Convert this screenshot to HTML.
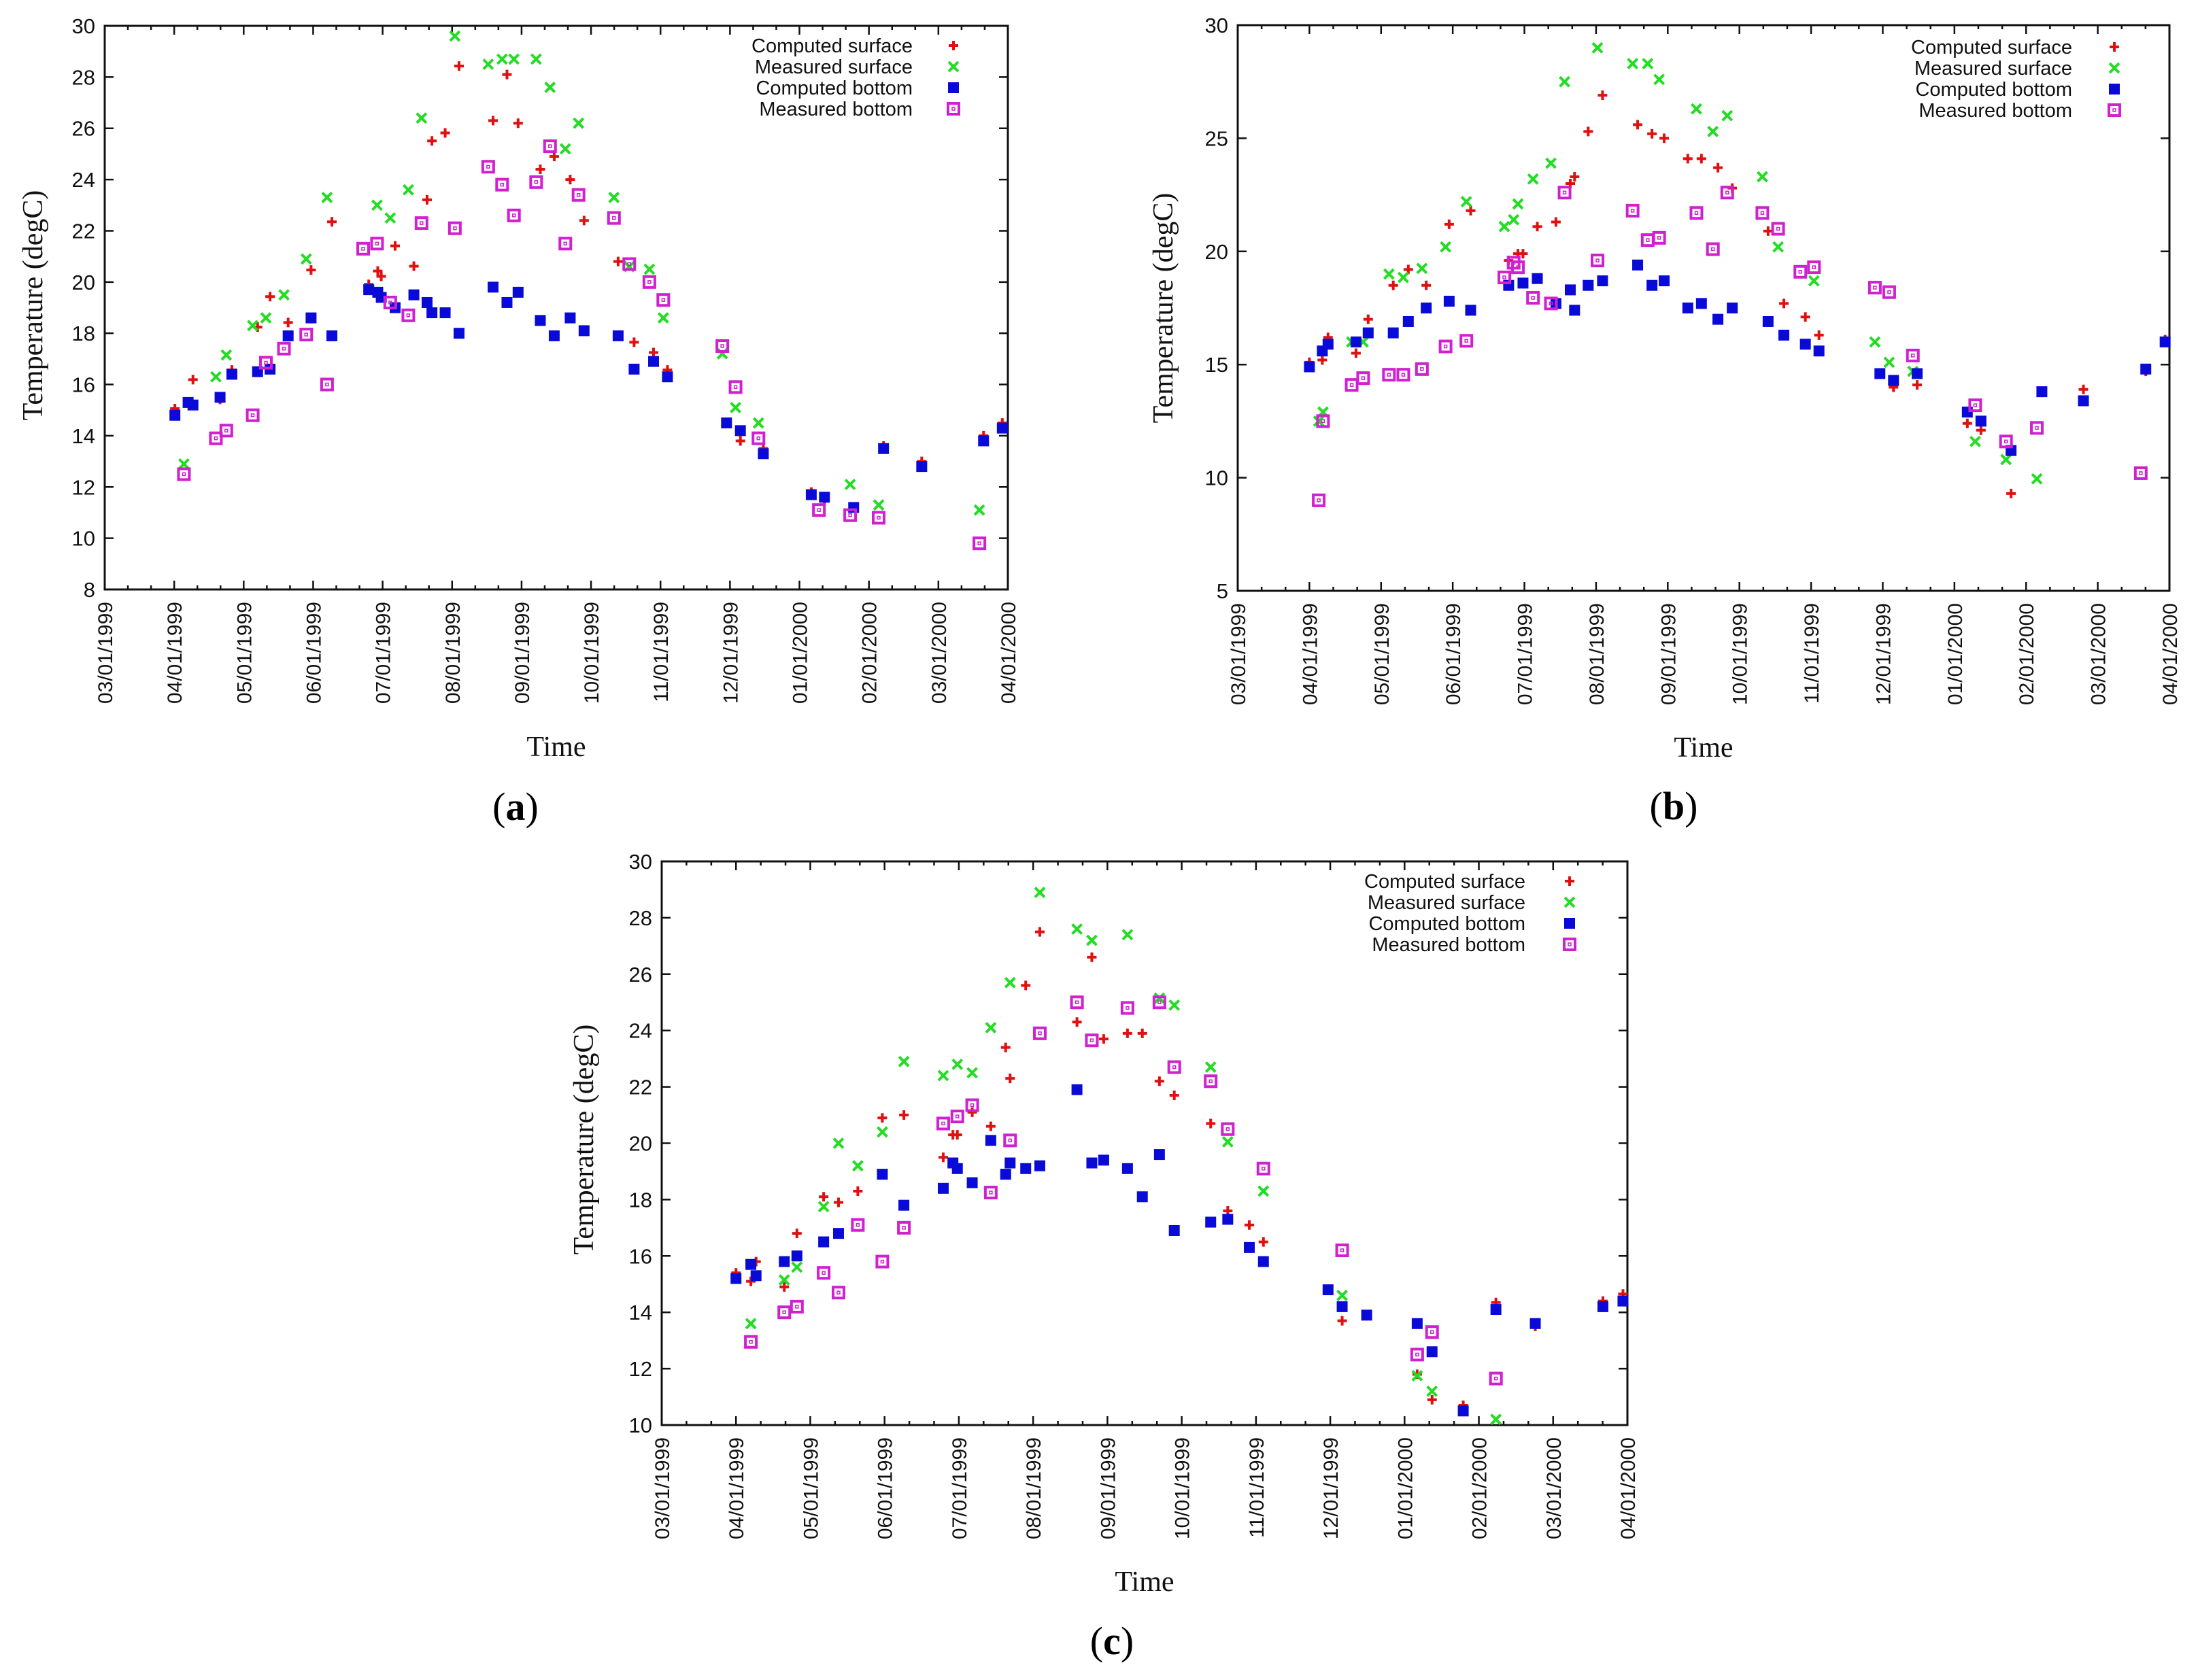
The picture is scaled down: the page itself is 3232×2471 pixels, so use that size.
<!DOCTYPE html>
<html><head><meta charset="utf-8"><style>
html,body{margin:0;padding:0;background:#fff;}
svg{display:block;}
</style></head><body>
<svg id="fig" xmlns="http://www.w3.org/2000/svg" width="3232" height="2471" viewBox="0 0 3232 2471"></svg>
<script>
// x values are months since 03/01/1999
const monthLabels = ["03/01/1999","04/01/1999","05/01/1999","06/01/1999","07/01/1999","08/01/1999","09/01/1999","10/01/1999","11/01/1999","12/01/1999","01/01/2000","02/01/2000","03/01/2000","04/01/2000"];
const seriesNames = ["Computed surface","Measured surface","Computed bottom","Measured bottom"];
const yTicksA = [8,10,12,14,16,18,20,22,24,26,28,30];
const yTicksB = [5,10,15,20,25,30];
const yTicksC = [10,12,14,16,18,20,22,24,26,28,30];

// Panel (a)
const aCSx=[1.01,1.27,1.66,1.83,2.2,2.38,2.64,2.97,3.27,3.8,3.93,3.98,4.18,4.45,4.64,4.71,4.9,5.1,5.59,5.79,5.95,6.27,6.47,6.7,6.9,7.39,7.62,7.9,8.1,8.95,9.15,9.48,10.17,10.36,11.21,11.76,12.65,12.92];
const aCSy=[15.06,16.19,15.42,16.57,18.24,19.43,18.42,20.47,22.35,19.91,20.43,20.22,21.41,20.62,23.21,25.51,25.82,28.43,26.3,28.1,26.2,24.4,24.9,24.0,22.4,20.8,17.65,17.25,16.57,14.5,13.8,13.5,11.8,11.47,13.6,13.0,14.0,14.5];
const aMSx=[1.14,1.6,1.75,2.13,2.32,2.58,2.9,3.2,3.92,4.11,4.37,4.56,5.04,5.52,5.72,5.89,6.21,6.41,6.63,6.82,7.33,7.55,7.84,8.04,8.89,9.08,9.41,10.73,11.14,12.59];
const aMSy=[12.9,16.3,17.15,18.3,18.6,19.5,20.9,23.3,23.0,22.5,23.6,26.4,29.6,28.5,28.7,28.7,28.7,27.6,25.2,26.2,23.3,20.6,20.5,18.6,17.2,15.1,14.5,12.1,11.3,11.1];
const aCBx=[1.01,1.2,1.27,1.66,1.83,2.2,2.38,2.64,2.97,3.27,3.8,3.93,3.98,4.18,4.45,4.64,4.71,4.9,5.1,5.59,5.79,5.95,6.27,6.47,6.7,6.9,7.39,7.62,7.9,8.1,8.95,9.15,9.48,10.17,10.36,10.78,11.21,11.76,12.65,12.92];
const aCBy=[14.8,15.3,15.2,15.5,16.4,16.5,16.6,17.9,18.6,17.9,19.7,19.6,19.4,19.0,19.5,19.2,18.8,18.8,18.0,19.8,19.2,19.6,18.5,17.9,18.6,18.1,17.9,16.6,16.9,16.3,14.5,14.2,13.3,11.7,11.6,11.2,13.5,12.8,13.8,14.3];
const aMBx=[1.14,1.6,1.75,2.13,2.32,2.58,2.9,3.2,3.72,3.92,4.11,4.37,4.56,5.04,5.52,5.72,5.89,6.21,6.41,6.63,6.82,7.33,7.55,7.84,8.04,8.89,9.08,9.41,10.28,10.73,11.14,12.59];
const aMBy=[12.5,13.9,14.2,14.8,16.85,17.4,17.95,16.0,21.3,21.5,19.2,18.7,22.3,22.1,24.5,23.8,22.6,23.9,25.3,21.5,23.4,22.5,20.7,20.0,19.3,17.5,15.9,13.9,11.1,10.9,10.8,9.8];

// Panel (b)
const bCSx=[1.0,1.18,1.26,1.65,1.82,2.17,2.38,2.63,2.95,3.25,3.78,3.91,3.98,4.18,4.44,4.64,4.7,4.89,5.09,5.58,5.78,5.95,6.28,6.47,6.7,6.9,7.4,7.62,7.92,8.11,9.15,9.48,10.18,10.37,10.79,11.8,12.67,12.94];
const bCSy=[15.1,15.2,16.2,15.5,17.0,18.5,19.2,18.5,21.2,21.8,19.6,19.9,19.9,21.1,21.3,23.0,23.3,25.3,26.9,25.6,25.2,25.0,24.1,24.1,23.7,22.8,20.9,17.7,17.1,16.3,14.0,14.1,12.4,12.1,9.3,13.9,14.7,16.1];
const bMSx=[1.13,1.19,1.59,1.75,2.11,2.31,2.57,2.9,3.19,3.72,3.85,3.91,4.12,4.37,4.56,5.02,5.51,5.72,5.88,6.4,6.63,6.83,7.32,7.54,8.04,8.89,9.09,9.42,10.29,10.72,11.15];
const bMSy=[12.5,12.9,16.0,16.0,19.0,18.85,19.25,20.2,22.2,21.1,21.4,22.1,23.2,23.9,27.5,29.0,28.3,28.3,27.6,26.3,25.3,26.0,23.3,20.2,18.7,16.0,15.1,14.7,11.6,10.8,9.95];
const bCBx=[1.0,1.18,1.26,1.65,1.82,2.17,2.38,2.63,2.95,3.25,3.78,3.98,4.18,4.44,4.64,4.7,4.89,5.09,5.58,5.78,5.95,6.28,6.47,6.7,6.9,7.4,7.62,7.92,8.11,8.96,9.15,9.48,10.18,10.37,10.79,11.22,11.8,12.67,12.94];
const bCBy=[14.9,15.6,15.9,16.0,16.4,16.4,16.9,17.5,17.8,17.4,18.5,18.6,18.8,17.7,18.3,17.4,18.5,18.7,19.4,18.5,18.7,17.5,17.7,17.0,17.5,16.9,16.3,15.9,15.6,14.6,14.3,14.6,12.9,12.5,11.2,13.8,13.4,14.8,16.0];
const bMBx=[1.13,1.19,1.59,1.75,2.11,2.31,2.57,2.9,3.19,3.72,3.85,3.91,4.12,4.37,4.56,5.02,5.51,5.72,5.88,6.4,6.63,6.83,7.32,7.54,7.85,8.04,8.89,9.09,9.42,10.29,10.72,11.15,12.6];
const bMBy=[9.0,12.5,14.1,14.4,14.55,14.55,14.8,15.8,16.05,18.85,19.5,19.3,17.95,17.7,22.6,19.6,21.8,20.5,20.6,21.7,20.1,22.6,21.7,21.0,19.1,19.3,18.4,18.2,15.4,13.2,11.6,12.2,10.2];

// Panel (c)
const cCSx=[1.0,1.2,1.27,1.65,1.82,2.18,2.38,2.64,2.97,3.26,3.79,3.92,3.98,4.18,4.43,4.63,4.69,4.9,5.09,5.59,5.79,5.95,6.27,6.47,6.7,6.9,7.39,7.62,7.91,8.1,8.97,9.16,10.17,10.37,10.79,11.23,11.76,12.67,12.94];
const cCSy=[15.4,15.1,15.8,14.9,16.8,18.1,17.9,18.3,20.9,21.0,19.5,20.3,20.3,21.1,20.6,23.4,22.3,25.6,27.5,24.3,26.6,23.7,23.9,23.9,22.2,21.7,20.7,17.6,17.1,16.5,14.8,13.7,11.8,10.9,10.7,14.35,13.5,14.4,14.65];
const cMSx=[1.2,1.65,1.82,2.18,2.38,2.64,2.97,3.26,3.79,3.98,4.18,4.43,4.69,5.09,5.59,5.79,6.27,6.7,6.9,7.39,7.62,8.1,9.16,10.17,10.37,11.23];
const cMSy=[13.6,15.15,15.6,17.75,20.0,19.2,20.4,22.9,22.4,22.8,22.5,24.1,25.7,28.9,27.6,27.2,27.4,25.15,24.9,22.7,20.05,18.3,14.6,11.75,11.2,10.2];
const cCBx=[1.0,1.2,1.27,1.65,1.82,2.18,2.38,2.97,3.26,3.79,3.92,3.98,4.18,4.43,4.63,4.69,4.9,5.09,5.59,5.79,5.95,6.27,6.47,6.7,6.9,7.39,7.62,7.91,8.1,8.97,9.16,9.49,10.17,10.37,10.79,11.23,11.76,12.67,12.94];
const cCBy=[15.2,15.7,15.3,15.8,16.0,16.5,16.8,18.9,17.8,18.4,19.3,19.1,18.6,20.1,18.9,19.3,19.1,19.2,21.9,19.3,19.4,19.1,18.1,19.6,16.9,17.2,17.3,16.3,15.8,14.8,14.2,13.9,13.6,12.6,10.5,14.1,13.6,14.2,14.4];
const cMBx=[1.2,1.65,1.82,2.18,2.38,2.64,2.97,3.26,3.79,3.98,4.18,4.43,4.69,5.09,5.59,5.79,6.27,6.7,6.9,7.39,7.62,8.1,9.16,10.17,10.37,11.23];
const cMBy=[12.95,14.0,14.2,15.4,14.7,17.1,15.8,17.0,20.7,20.95,21.35,18.25,20.1,23.9,25.0,23.65,24.8,25.0,22.7,22.2,20.5,19.1,16.2,12.5,13.3,11.65];

const NS="http://www.w3.org/2000/svg";
const svg=document.getElementById('fig');
function mk(tag,attrs,parent){const e=document.createElementNS(NS,tag);for(const k in attrs)e.setAttribute(k,attrs[k]);(parent||svg).appendChild(e);return e;}
const COLORS=["#e01010","#22dd22","#0a0ad8","#d020d0"];

function marker(g,type,x,y){
  const s=7;
  if(type===0){
    mk('path',{d:`M${x-s} ${y}H${x+s}M${x} ${y-s}V${y+s}`,stroke:COLORS[0],'stroke-width':4,fill:'none'},g);
  }else if(type===1){
    mk('path',{d:`M${x-s} ${y-s}L${x+s} ${y+s}M${x-s} ${y+s}L${x+s} ${y-s}`,stroke:COLORS[1],'stroke-width':4,fill:'none'},g);
  }else if(type===2){
    mk('rect',{x:x-8,y:y-8,width:16,height:16,fill:COLORS[2]},g);
  }else{
    mk('rect',{x:x-8,y:y-8,width:16,height:16,fill:'none',stroke:COLORS[3],'stroke-width':4},g);
    mk('rect',{x:x-2,y:y-2,width:4,height:4,fill:'none',stroke:COLORS[3],'stroke-width':1.5},g);
  }
}

function panel(p){
  const g=mk('g',{});
  
  
  const W=p.r-p.l, H=p.b-p.t;
  const xs=m=>p.l+m*W/13;
  const ys=v=>p.b-(v-p.ymin)/(p.ymax-p.ymin)*H;
  // axes frame
  const fr=mk('rect',{x:p.l,y:p.t,width:W,height:H,fill:'none',stroke:'#111','stroke-width':3},g);
  
  
  // y ticks
  const yt=mk('g',{},g);
  
  
  p.yticks.forEach(v=>{
    const y=ys(v);
    mk('path',{d:`M${p.l} ${y}h13M${p.r} ${y}h-13`,stroke:'#111','stroke-width':2.5},yt);
    const t=mk('text',{x:p.l-14,y:y+11,'text-anchor':'end','font-family':'Liberation Sans, sans-serif','font-size':31,fill:'#111'},yt);
    t.textContent=v;
    
    
  });
  // x ticks
  const xt=mk('g',{},g);
  
  
  for(let i=0;i<=39;i++){
    const x=xs(i/3), len=(i%3===0)?13:6;
    mk('path',{d:`M${x} ${p.b}v${-len}M${x} ${p.t}v${len}`,stroke:'#111','stroke-width':2.5},xt);
  }
  monthLabels.forEach((lab,i)=>{
    const x=xs(i);
    const t=mk('text',{x:0,y:0,transform:`translate(${x+11},${p.b+18}) rotate(-90)`,'text-anchor':'end','font-family':'Liberation Sans, sans-serif','font-size':30,fill:'#111'},xt);
    t.textContent=lab;
    
    
  });
  // series
  p.series.forEach((s,k)=>{
    const sg=mk('g',{},g);
    
    
    s[0].forEach((m,i)=>marker(sg,k,xs(m),ys(s[1][i])));
  });
  // legend
  const lg=mk('g',{},g);
  
  
  seriesNames.forEach((n,k)=>{
    const y=p.legY+k*31;
    const t=mk('text',{x:p.legTx,y:y+10,'text-anchor':'end','font-family':'Liberation Sans, sans-serif','font-size':29,fill:'#111'},lg);
    t.textContent=n;
    
    
    marker(lg,k,p.legMx,y);
  });
  // titles
  const yl=mk('text',{transform:`translate(${p.ytX},${p.ytY}) rotate(-90)`,'text-anchor':'middle','font-family':'Liberation Serif, serif','font-size':42,fill:'#111'},g);
  yl.textContent='Temperature (degC)';
  
  
  const xl=mk('text',{x:p.xtX,y:p.xtY+14,'text-anchor':'middle','font-family':'Liberation Serif, serif','font-size':42,fill:'#111'},g);
  xl.textContent='Time';
  
  
  const pl=mk('text',{x:p.plX,y:p.plY+20,'text-anchor':'middle','font-family':'Liberation Serif, serif','font-size':58,fill:'#000'},g);
  pl.innerHTML='(<tspan font-weight="bold">'+p.id+'</tspan>)';
  
  
}

panel({id:'a',l:154,r:1482,t:38,b:867,ymin:8,ymax:30,yticks:yTicksA,
  series:[[aCSx,aCSy],[aMSx,aMSy],[aCBx,aCBy],[aMBx,aMBy]],
  legY:67,legTx:1342,legMx:1402,ytX:62,ytY:449,xtX:818,xtY:1098,plX:758,plY:1186});
panel({id:'b',l:1820,r:3190,t:37,b:869,ymin:5,ymax:30,yticks:yTicksB,
  series:[[bCSx,bCSy],[bMSx,bMSy],[bCBx,bCBy],[bMBx,bMBy]],
  legY:69,legTx:3047,legMx:3109,ytX:1724,ytY:453,xtX:2505,xtY:1099,plX:2461,plY:1185});
panel({id:'c',l:973,r:2393,t:1267,b:2096,ymin:10,ymax:30,yticks:yTicksC,
  series:[[cCSx,cCSy],[cMSx,cMSy],[cCBx,cCBy],[cMBx,cMBy]],
  legY:1296,legTx:2243,legMx:2308,ytX:872,ytY:1676,xtX:1683,xtY:2326,plX:1635,plY:2413});
</script>
</body></html>
